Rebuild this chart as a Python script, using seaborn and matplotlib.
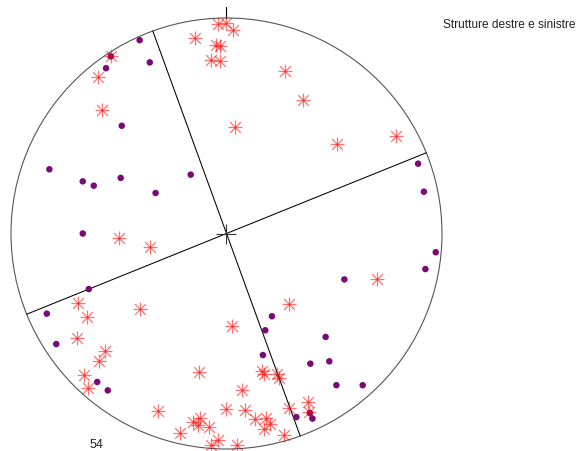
import numpy as np
import pandas as pd
import matplotlib
matplotlib.use("Agg")
import matplotlib.pyplot as plt
from matplotlib.patches import Circle
import seaborn as sns

# Projected positions on the unit net (x to the east, y to the north)
dots_x = [-0.403, -0.537, -0.356, -0.559, -0.486, -0.822, -0.667, -0.616, -0.491, -0.166,
          -0.329, 0.889, 0.916, -0.667, -0.639, -0.834, -0.790, -0.600, -0.551, 0.211,
          0.180, 0.169, 0.971, 0.923, 0.547, 0.460, 0.389, 0.477, 0.510, 0.632,
          0.324, 0.387, 0.399]
dots_y = [0.897, 0.822, 0.794, 0.767, 0.500, 0.298, 0.242, 0.222, 0.258, 0.273,
          0.188, 0.324, 0.194, 0.000, -0.258, -0.372, -0.513, -0.689, -0.728, -0.384,
          -0.449, -0.564, -0.087, -0.165, -0.213, -0.480, -0.604, -0.593, -0.704, -0.704,
          -0.852, -0.833, -0.859]

stars_x = [-0.038, -0.001, 0.032, -0.148, -0.049, -0.030, -0.074, -0.028, 0.273, 0.356,
           0.041, 0.515, 0.787, -0.537, -0.595, -0.576, 0.697, -0.497, -0.353, -0.691,
           -0.646, -0.401, -0.692, -0.563, -0.593, -0.659, -0.641, 0.026, -0.129, 0.166,
           0.172, 0.233, 0.242, 0.073, -0.316, -0.003, 0.084, 0.290, -0.218, -0.157,
           -0.122, -0.130, -0.079, -0.039, -0.073, 0.048, 0.133, 0.181, 0.204, 0.173,
           0.266, 0.289, 0.377, 0.384]
stars_y = [0.972, 0.977, 0.944, 0.907, 0.877, 0.870, 0.807, 0.802, 0.754, 0.621,
           0.493, 0.415, 0.452, 0.825, 0.725, 0.574, -0.213, -0.021, -0.063, -0.323,
           -0.389, -0.350, -0.483, -0.544, -0.590, -0.657, -0.715, -0.428, -0.642, -0.637,
           -0.654, -0.652, -0.669, -0.727, -0.823, -0.813, -0.820, -0.810, -0.924, -0.877,
           -0.858, -0.888, -0.900, -0.959, -0.982, -0.982, -0.863, -0.854, -0.885, -0.906,
           -0.936, -0.327, -0.784, -0.826]

# Strikes of the two vertical planes (degrees clockwise from north)
plane_strikes = [160, 68]

title = "Strutture destre e sinistre"
count_label = str(len(stars_x))

dots = pd.DataFrame({"x": dots_x, "y": dots_y})
stars = pd.DataFrame({"x": stars_x, "y": stars_y})

sns.set_style("white")
plt.rcParams["font.family"] = ["Liberation Sans", "DejaVu Sans"]

W, H = 577, 452
fig = plt.figure(figsize=(W / 100, H / 100), dpi=100)
ax = fig.add_axes([0, 0, 1, 1])
cx, cy, R = 226.5, 234.5, 215.5
ax.set_xlim(-cx / R, (W - cx) / R)
ax.set_ylim((cy - H) / R, cy / R)
ax.set_axis_off()

# primitive circle
ax.add_patch(Circle((0, 0), 1.0, fill=False, edgecolor="#555555", lw=0.8, zorder=1))
# north tick
ax.plot([0, 0], [1.0, 1.05], color="black", lw=0.8, zorder=1)
# vertical planes through the centre
for s in plane_strikes:
    a = np.radians(s)
    ax.plot([np.sin(a), -np.sin(a)], [np.cos(a), -np.cos(a)], color="black", lw=0.75, zorder=2)
# centre cross
ax.plot([0], [0], marker="+", color="#333333", markersize=15, mew=0.8, zorder=2)

sns.scatterplot(data=dots, x="x", y="y", ax=ax, color="#7a0a7a", s=22,
                edgecolor="none", linewidth=0, zorder=3, legend=False)
sns.scatterplot(data=stars, x="x", y="y", ax=ax, marker="+", color="red", s=110,
                linewidth=0.9, alpha=0.55, zorder=4, legend=False)
sns.scatterplot(data=stars, x="x", y="y", ax=ax, marker="x", color="red", s=60,
                linewidth=0.9, alpha=0.55, zorder=4, legend=False)

fig.text(575.5 / W, 1 - 24.5 / H, title, ha="right", va="center", fontsize=8.6, color="#222222")
fig.text(96.7 / W, 1 - 445 / H, count_label, ha="center", va="center", fontsize=9, color="#222222")

fig.savefig("out.png", dpi=100)
